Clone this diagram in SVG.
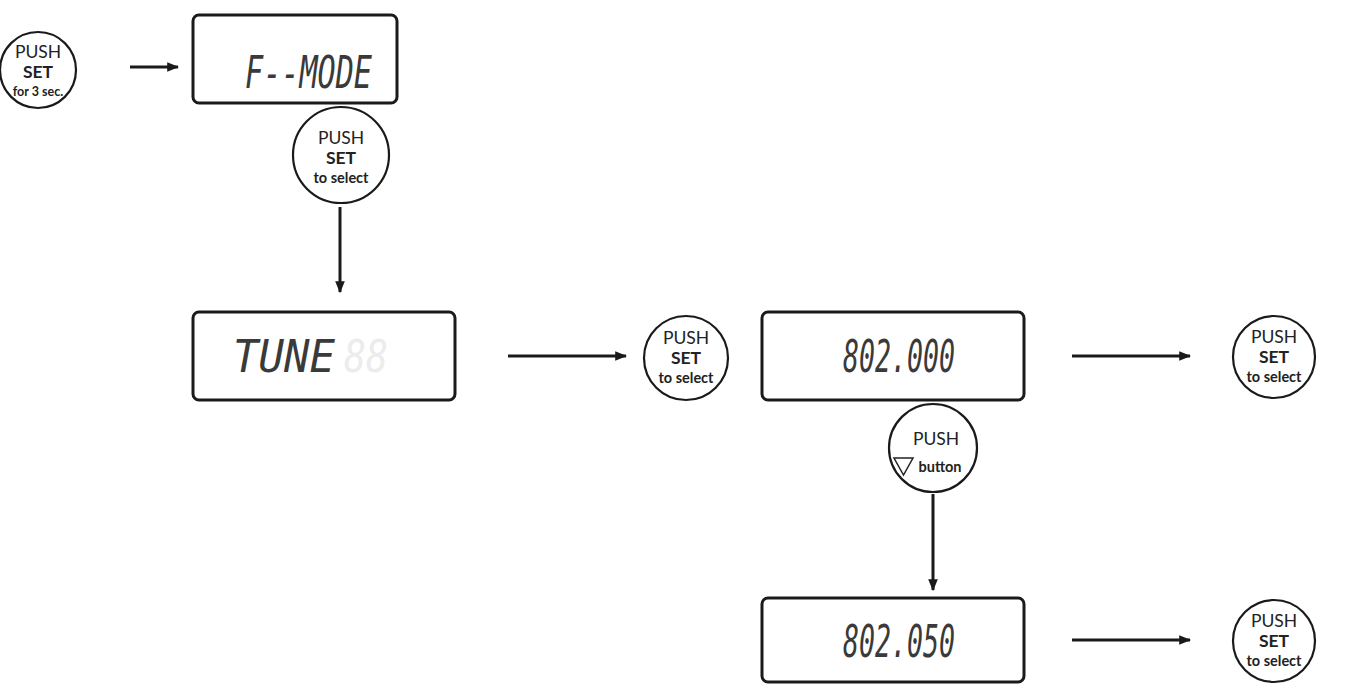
<svg xmlns="http://www.w3.org/2000/svg" width="1348" height="684" viewBox="0 0 1348 684">
<style>
.btn{fill:#fff;stroke:#1a1a1a;stroke-width:2.2}
.box{fill:#fff;stroke:#1a1a1a;stroke-width:3}
.t1{font-family:Lato,"Liberation Sans",sans-serif;font-size:17.5px;fill:#222;text-anchor:middle}
.t2{font-family:Lato,"Liberation Sans",sans-serif;font-size:17.5px;font-weight:700;fill:#222;text-anchor:middle}
.t3{font-family:Lato,"Liberation Sans",sans-serif;font-size:14.5px;font-weight:700;fill:#222;text-anchor:middle}
.lcd{font-family:"DejaVu Sans Mono","Liberation Mono",monospace;font-size:44px;font-style:italic;fill:#3a3a3a}
.ghost{fill:#ececec}
.conn{stroke:#1a1a1a;stroke-width:3;fill:none}
</style>
<defs>
<marker id="ah" viewBox="0 0 10 10" refX="9" refY="5" markerWidth="4" markerHeight="4" orient="auto" markerUnits="strokeWidth">
<path d="M0,1 L10,5 L0,9 Z" fill="#1a1a1a"/>
</marker>
</defs>
<g id="connectors">
<line class="conn" x1="130" y1="67" x2="178" y2="67" marker-end="url(#ah)"/>
<line class="conn" x1="340" y1="207" x2="340" y2="292" marker-end="url(#ah)"/>
<line class="conn" x1="508" y1="356" x2="626" y2="356" marker-end="url(#ah)"/>
<line class="conn" x1="1072" y1="356" x2="1190" y2="356" marker-end="url(#ah)"/>
<line class="conn" x1="933" y1="494" x2="933" y2="590" marker-end="url(#ah)"/>
<line class="conn" x1="1072" y1="640" x2="1190" y2="640" marker-end="url(#ah)"/>
</g>
<g id="btn-set-3sec">
<circle class="btn" cx="38" cy="70" r="38"/>
<text class="t1" x="38" y="58">PUSH</text>
<text class="t2" x="38" y="78">SET</text>
<text class="t3" x="38" y="96" style="font-size:12.5px">for 3 sec.</text>
</g>
<g id="lcd-fmode">
<rect class="box" x="193" y="15" width="204" height="88" rx="6"/>
<text class="lcd" x="245" y="88" textLength="127" lengthAdjust="spacingAndGlyphs">F--MODE</text>
</g>
<g id="btn-set-select-1">
<circle class="btn" cx="341" cy="155" r="48"/>
<text class="t1" x="341" y="144">PUSH</text>
<text class="t2" x="341" y="164">SET</text>
<text class="t3" x="341" y="183">to select</text>
</g>
<g id="lcd-tune">
<rect class="box" x="193" y="312" width="262" height="88" rx="6"/>
<text class="lcd" x="233" y="372" textLength="102" lengthAdjust="spacingAndGlyphs">TUNE</text>
<text class="lcd ghost" x="344" y="372" textLength="44" lengthAdjust="spacingAndGlyphs">88</text>
</g>
<g id="btn-set-select-2">
<circle class="btn" cx="686" cy="358" r="42"/>
<text class="t1" x="686" y="344">PUSH</text>
<text class="t2" x="686" y="364">SET</text>
<text class="t3" x="686" y="383">to select</text>
</g>
<g id="lcd-802000">
<rect class="box" x="762" y="312" width="262" height="88" rx="6"/>
<text class="lcd" x="843" y="372" textLength="112" lengthAdjust="spacingAndGlyphs">802.000</text>
</g>
<g id="btn-set-select-3">
<circle class="btn" cx="1274" cy="357" r="41"/>
<text class="t1" x="1274" y="343">PUSH</text>
<text class="t2" x="1274" y="363">SET</text>
<text class="t3" x="1274" y="382">to select</text>
</g>
<g id="btn-down">
<circle class="btn" cx="933" cy="448" r="44"/>
<text class="t1" x="936" y="445">PUSH</text>
<path d="M894,458 L913,458 L903.5,475 Z" fill="none" stroke="#222" stroke-width="1.5"/>
<text class="t3" x="940" y="472">button</text>
</g>
<g id="lcd-802050">
<rect class="box" x="762" y="598" width="262" height="84" rx="6"/>
<text class="lcd" x="843" y="657" textLength="112" lengthAdjust="spacingAndGlyphs">802.050</text>
</g>
<g id="btn-set-select-4">
<circle class="btn" cx="1274" cy="641" r="41"/>
<text class="t1" x="1274" y="627">PUSH</text>
<text class="t2" x="1274" y="647">SET</text>
<text class="t3" x="1274" y="666">to select</text>
</g>
</svg>
